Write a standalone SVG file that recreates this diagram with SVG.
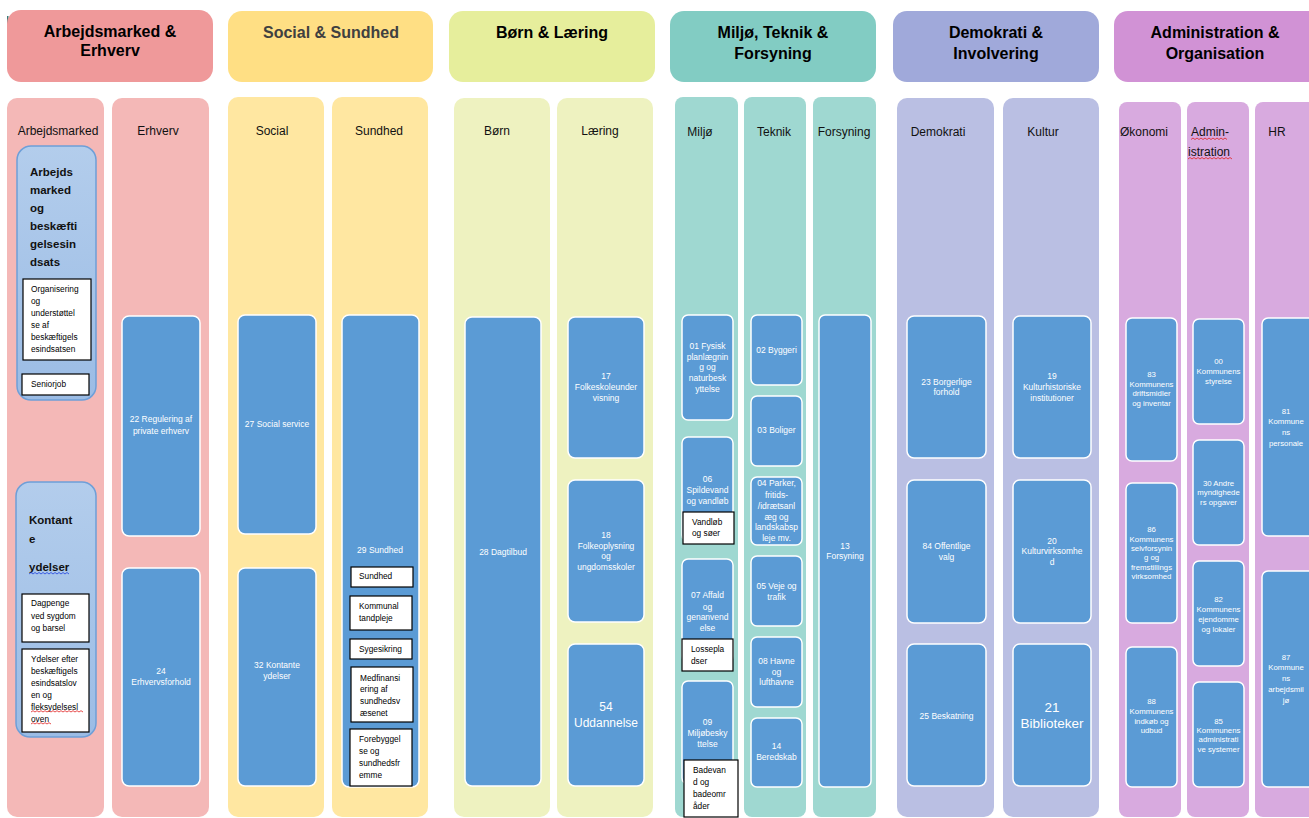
<svg xmlns="http://www.w3.org/2000/svg" width="1309" height="818" viewBox="0 0 1309 818">
<defs>
<linearGradient id="lb" x1="0" y1="0" x2="0" y2="1">
<stop offset="0" stop-color="#B3CDEC"/>
<stop offset="1" stop-color="#9BBCE5"/>
</linearGradient>
<style>
text{font-family:"Liberation Sans",Arial,sans-serif}
.h{font-size:16px;font-weight:bold;text-anchor:middle;fill:#000}
.cl{font-size:12px;fill:#111}
.clm{font-size:12px;fill:#111;text-anchor:middle}
.bx{fill:#5B9BD5;stroke:#fff;stroke-width:1.5}
.bt{font-size:8.5px;fill:#fff;text-anchor:middle}
.bs{font-size:7.8px;fill:#fff;text-anchor:middle}
.wb{fill:#fff;stroke:#000;stroke-width:1.2}
.wt{font-size:8.3px;fill:#000}
.lbx{fill:url(#lb);stroke:#6E9FD8;stroke-width:1.5}
.bold{font-size:11.5px;font-weight:bold;fill:#111}
.red{fill:none;stroke:#E02020;stroke-width:0.8}
.blu{fill:none;stroke:#2040E0;stroke-width:0.8}
</style>
</defs>
<rect width="1309" height="818" fill="#fff"/>
<rect x="7" y="16" width="1.5" height="13" fill="#3a7a78"/>

<g id="headers">
<g id="h-arbejdsmarked-erhverv"><rect x="7" y="10" width="206" height="72" rx="14" fill="#EF999A"/><text class="h" x="110" y="37">Arbejdsmarked &amp;</text><text class="h" x="110" y="56">Erhverv</text></g>
<g id="h-social-sundhed"><rect x="228" y="11" width="205" height="71" rx="14" fill="#FFDF84"/><text class="h" x="331" y="38" style="fill:#404040">Social &amp; Sundhed</text></g>
<g id="h-born-laering"><rect x="449" y="11" width="206" height="71" rx="14" fill="#E6EE9C"/><text class="h" x="552" y="38">Børn &amp; Læring</text></g>
<g id="h-miljo"><rect x="670" y="11" width="206" height="71" rx="14" fill="#82CCC3"/><text class="h" x="773" y="38">Miljø, Teknik &amp;</text><text class="h" x="773" y="59">Forsyning</text></g>
<g id="h-demokrati"><rect x="893" y="11" width="206" height="71" rx="14" fill="#A0A9DA"/><text class="h" x="996" y="38">Demokrati &amp;</text><text class="h" x="996" y="59">Involvering</text></g>
<g id="h-administration"><rect x="1114" y="11" width="210" height="71" rx="14" fill="#D192D5"/><text class="h" x="1215" y="38">Administration &amp;</text><text class="h" x="1215" y="59">Organisation</text></g>
</g>

<g id="columns">
<g id="c-arbejdsmarked"><rect x="7" y="98" width="97" height="719" rx="10" fill="#F4B8B7"/><text class="clm" x="58" y="135">Arbejdsmarked</text></g>
<g id="c-erhverv"><rect x="112" y="98" width="97" height="719" rx="10" fill="#F4B8B7"/><text class="clm" x="158" y="135">Erhverv</text></g>
<g id="c-social"><rect x="228" y="97" width="96" height="720" rx="10" fill="#FFE7A1"/><text class="clm" x="272" y="135">Social</text></g>
<g id="c-sundhed"><rect x="332" y="97" width="96" height="720" rx="10" fill="#FFE7A1"/><text class="clm" x="379" y="135">Sundhed</text></g>
<g id="c-born"><rect x="454" y="98" width="96" height="719" rx="10" fill="#EEF2C0"/><text class="clm" x="497" y="135">Børn</text></g>
<g id="c-laering"><rect x="557" y="98" width="96" height="719" rx="10" fill="#EEF2C0"/><text class="clm" x="600" y="135">Læring</text></g>
<g id="c-miljo"><rect x="675" y="97" width="63" height="720" rx="8" fill="#9FD8D1"/><text class="clm" x="700" y="136">Miljø</text></g>
<g id="c-teknik"><rect x="744" y="97" width="62" height="720" rx="8" fill="#9FD8D1"/><text class="clm" x="774" y="136">Teknik</text></g>
<g id="c-forsyning"><rect x="813" y="97" width="63" height="720" rx="8" fill="#9FD8D1"/><text class="clm" x="844" y="136">Forsyning</text></g>
<g id="c-demokrati"><rect x="897" y="98" width="97" height="719" rx="10" fill="#BABFE3"/><text class="clm" x="938" y="136">Demokrati</text></g>
<g id="c-kultur"><rect x="1003" y="98" width="96" height="719" rx="10" fill="#BABFE3"/><text class="clm" x="1043" y="136">Kultur</text></g>
<g id="c-okonomi"><rect x="1119" y="102" width="62" height="715" rx="8" fill="#D8AADF"/><text class="cl" x="1120" y="136">Økonomi</text></g>
<g id="c-admin"><rect x="1187" y="102" width="62" height="715" rx="8" fill="#D8AADF"/><text class="cl" x="1191" y="136">Admin-</text><text class="cl" x="1188" y="156">istration</text>
<path class="red" d="M1191 139.5 l2 -1.5 l2 1.5 l2 -1.5 l2 1.5 l2 -1.5 l2 1.5 l2 -1.5 l2 1.5 l2 -1.5 l2 1.5 l2 -1.5 l2 1.5 l2 -1.5 l2 1.5 l2 -1.5 l2 1.5 l2 -1.5 l2 1.5"/>
<path class="red" d="M1188 159 l2 -1.5 l2 1.5 l2 -1.5 l2 1.5 l2 -1.5 l2 1.5 l2 -1.5 l2 1.5 l2 -1.5 l2 1.5 l2 -1.5 l2 1.5 l2 -1.5 l2 1.5 l2 -1.5 l2 1.5 l2 -1.5 l2 1.5 l2 -1.5 l2 1.5 l2 -1.5 l2 1.5"/></g>
<g id="c-hr"><rect x="1255" y="102" width="70" height="715" rx="8" fill="#D8AADF"/><text class="clm" x="1277" y="136">HR</text></g>
</g>

<g id="n-arbejdsmarked-beskaeftigelse">
<rect class="lbx" x="17" y="146" width="79" height="254" rx="14"/>
<text class="bold" x="30" y="176">Arbejds</text><text class="bold" x="30" y="194">marked</text><text class="bold" x="30" y="212">og</text><text class="bold" x="30" y="230">beskæfti</text><text class="bold" x="30" y="248">gelsesin</text><text class="bold" x="30" y="266">dsats</text>
<g id="n-organisering"><rect class="wb" x="23" y="279" width="68" height="81"/>
<text class="wt" x="31" y="292">Organisering</text><text class="wt" x="31" y="304">og</text><text class="wt" x="31" y="316">understøttel</text><text class="wt" x="31" y="328">se af</text><text class="wt" x="31" y="340">beskæftigels</text><text class="wt" x="31" y="352">esindsatsen</text></g>
<g id="n-seniorjob"><rect class="wb" x="22" y="374" width="67" height="21"/><text class="wt" x="31" y="387">Seniorjob</text></g>
</g>

<g id="n-kontante-ydelser">
<rect class="lbx" x="16" y="482" width="80" height="255" rx="14"/>
<text class="bold" x="29" y="524">Kontant</text><text class="bold" x="29" y="543">e</text><text class="bold" x="29" y="571">ydelser</text>
<path class="blu" d="M29 574 l2 -1.5 l2 1.5 l2 -1.5 l2 1.5 l2 -1.5 l2 1.5 l2 -1.5 l2 1.5 l2 -1.5 l2 1.5 l2 -1.5 l2 1.5 l2 -1.5 l2 1.5 l2 -1.5 l2 1.5 l2 -1.5 l2 1.5 l2 -1.5 l2 1.5"/>
<g id="n-dagpenge"><rect class="wb" x="22" y="594" width="67" height="48"/>
<text class="wt" x="31" y="606">Dagpenge</text><text class="wt" x="31" y="619">ved sygdom</text><text class="wt" x="31" y="631">og barsel</text></g>
<g id="n-ydelser-efter"><rect class="wb" x="22" y="649" width="67" height="83"/>
<text class="wt" x="31" y="662">Ydelser efter</text><text class="wt" x="31" y="674">beskæftigels</text><text class="wt" x="31" y="686">esindsatslov</text><text class="wt" x="31" y="698">en og</text><text class="wt" x="31" y="710">fleksydelsesl</text><text class="wt" x="31" y="722">oven</text>
<path class="red" d="M31 712 l2 -1.3 l2 1.3 l2 -1.3 l2 1.3 l2 -1.3 l2 1.3 l2 -1.3 l2 1.3 l2 -1.3 l2 1.3 l2 -1.3 l2 1.3 l2 -1.3 l2 1.3 l2 -1.3 l2 1.3 l2 -1.3 l2 1.3 l2 -1.3 l2 1.3 l2 -1.3 l2 1.3 l2 -1.3 l2 1.3 l2 -1.3 l2 1.3"/>
<path class="red" d="M31 724 l2 -1.3 l2 1.3 l2 -1.3 l2 1.3 l2 -1.3 l2 1.3 l2 -1.3 l2 1.3 l2 -1.3 l2 1.3"/></g>
</g>

<g id="n-22"><rect class="bx" x="122" y="316" width="78" height="220" rx="7"/><text class="bt" x="161" y="422">22 Regulering af</text><text class="bt" x="161" y="434">private erhverv</text></g>
<g id="n-24"><rect class="bx" x="122" y="568" width="78" height="218" rx="7"/><text class="bt" x="161" y="674">24</text><text class="bt" x="161" y="685">Erhvervsforhold</text></g>

<g id="n-27"><rect class="bx" x="238" y="315" width="78" height="219" rx="7"/><text class="bt" x="277" y="427">27 Social service</text></g>
<g id="n-32"><rect class="bx" x="238" y="568" width="78" height="218" rx="7"/><text class="bt" x="277" y="668">32 Kontante</text><text class="bt" x="277" y="679">ydelser</text></g>

<g id="n-29"><rect class="bx" x="342" y="315" width="77" height="472" rx="7"/><text class="bt" x="380" y="553">29 Sundhed</text>
<g id="n-sundhed"><rect class="wb" x="351" y="567" width="62" height="20"/><text class="wt" x="359" y="579">Sundhed</text></g>
<g id="n-tandpleje"><rect class="wb" x="350" y="596" width="62" height="34"/><text class="wt" x="359" y="609">Kommunal</text><text class="wt" x="359" y="621">tandpleje</text></g>
<g id="n-sygesikring"><rect class="wb" x="350" y="639" width="62" height="20"/><text class="wt" x="359" y="652">Sygesikring</text></g>
<g id="n-medfinansiering"><rect class="wb" x="351" y="667" width="62" height="55"/><text class="wt" x="360" y="681">Medfinansi</text><text class="wt" x="360" y="692">ering af</text><text class="wt" x="360" y="704">sundhedsv</text><text class="wt" x="360" y="716">æsenet</text></g>
<g id="n-forebyggelse"><rect class="wb" x="350" y="729" width="62" height="57"/><text class="wt" x="359" y="742">Forebyggel</text><text class="wt" x="359" y="754">se og</text><text class="wt" x="359" y="766">sundhedsfr</text><text class="wt" x="359" y="778">emme</text></g>
</g>

<g id="n-28"><rect class="bx" x="465" y="317" width="76" height="469" rx="7"/><text class="bt" x="503" y="555">28 Dagtilbud</text></g>
<g id="n-17"><rect class="bx" x="568" y="317" width="76" height="141" rx="7"/><text class="bt" x="606" y="379">17</text><text class="bt" x="606" y="390">Folkeskoleunder</text><text class="bt" x="606" y="401">visning</text></g>
<g id="n-18"><rect class="bx" x="568" y="480" width="76" height="142" rx="7"/><text class="bt" x="606" y="538">18</text><text class="bt" x="606" y="549">Folkeoplysning</text><text class="bt" x="606" y="559">og</text><text class="bt" x="606" y="570">ungdomsskoler</text></g>
<g id="n-54"><rect class="bx" x="568" y="644" width="76" height="142" rx="7"/><text class="bt" x="606" y="711" style="font-size:12px">54</text><text class="bt" x="606" y="727" style="font-size:12px">Uddannelse</text></g>

<g id="n-01"><rect class="bx" x="682" y="315" width="51" height="105" rx="6"/><text class="bt" x="707.5" y="349">01 Fysisk</text><text class="bt" x="707.5" y="360">planlægnin</text><text class="bt" x="707.5" y="370">g og</text><text class="bt" x="707.5" y="381">naturbesk</text><text class="bt" x="707.5" y="392">yttelse</text></g>
<g id="n-06"><rect class="bx" x="682" y="437" width="51" height="104" rx="6"/><text class="bt" x="707.5" y="482">06</text><text class="bt" x="707.5" y="493">Spildevand</text><text class="bt" x="707.5" y="504">og vandløb</text>
<g id="n-vandlob"><rect class="wb" x="683" y="512" width="51" height="32"/><text class="wt" x="692" y="525">Vandløb</text><text class="wt" x="692" y="536">og søer</text></g></g>
<g id="n-07"><rect class="bx" x="682" y="559" width="51" height="103" rx="6"/><text class="bt" x="707.5" y="598">07 Affald</text><text class="bt" x="707.5" y="610">og</text><text class="bt" x="707.5" y="620">genanvend</text><text class="bt" x="707.5" y="631">else</text>
<g id="n-lossepladser"><rect class="wb" x="682" y="639" width="51" height="32"/><text class="wt" x="691" y="652">Lossepla</text><text class="wt" x="691" y="664">dser</text></g></g>
<g id="n-09"><rect class="bx" x="682" y="681" width="51" height="103" rx="6"/><text class="bt" x="707.5" y="725">09</text><text class="bt" x="707.5" y="736">Miljøbesky</text><text class="bt" x="707.5" y="747">ttelse</text>
<g id="n-badevand"><rect class="wb" x="684" y="760" width="54" height="57"/><text class="wt" x="693" y="773">Badevan</text><text class="wt" x="693" y="785">d og</text><text class="wt" x="693" y="797">badeomr</text><text class="wt" x="693" y="809">åder</text></g></g>

<g id="n-02"><rect class="bx" x="751" y="315" width="51" height="70" rx="6"/><text class="bt" x="776.5" y="353">02 Byggeri</text></g>
<g id="n-03"><rect class="bx" x="751" y="396" width="51" height="70" rx="6"/><text class="bt" x="776.5" y="433">03 Boliger</text></g>
<g id="n-04"><rect class="bx" x="751" y="477" width="51" height="68" rx="6"/><text class="bt" x="776.5" y="486">04 Parker,</text><text class="bt" x="776.5" y="498">fritids-</text><text class="bt" x="776.5" y="509">/idrætsanl</text><text class="bt" x="776.5" y="520">æg og</text><text class="bt" x="776.5" y="530">landskabsp</text><text class="bt" x="776.5" y="541">leje mv.</text></g>
<g id="n-05"><rect class="bx" x="751" y="556" width="51" height="70" rx="6"/><text class="bt" x="776.5" y="589">05 Veje og</text><text class="bt" x="776.5" y="600">trafik</text></g>
<g id="n-08"><rect class="bx" x="751" y="637" width="51" height="70" rx="6"/><text class="bt" x="776.5" y="664">08 Havne</text><text class="bt" x="776.5" y="675">og</text><text class="bt" x="776.5" y="685">lufthavne</text></g>
<g id="n-14"><rect class="bx" x="751" y="718" width="51" height="69" rx="6"/><text class="bt" x="776.5" y="749">14</text><text class="bt" x="776.5" y="760">Beredskab</text></g>

<g id="n-13"><rect class="bx" x="819" y="315" width="52" height="472" rx="6"/><text class="bt" x="845" y="549">13</text><text class="bt" x="845" y="559">Forsyning</text></g>

<g id="n-23"><rect class="bx" x="907" y="316" width="79" height="142" rx="7"/><text class="bt" x="946.5" y="385">23 Borgerlige</text><text class="bt" x="946.5" y="395">forhold</text></g>
<g id="n-84"><rect class="bx" x="907" y="480" width="79" height="143" rx="7"/><text class="bt" x="946.5" y="549">84 Offentlige</text><text class="bt" x="946.5" y="560">valg</text></g>
<g id="n-25"><rect class="bx" x="907" y="644" width="79" height="142" rx="7"/><text class="bt" x="946.5" y="719">25 Beskatning</text></g>

<g id="n-19"><rect class="bx" x="1013" y="316" width="78" height="142" rx="7"/><text class="bt" x="1052" y="379">19</text><text class="bt" x="1052" y="390">Kulturhistoriske</text><text class="bt" x="1052" y="401">institutioner</text></g>
<g id="n-20"><rect class="bx" x="1013" y="480" width="78" height="143" rx="7"/><text class="bt" x="1052" y="544">20</text><text class="bt" x="1052" y="554">Kulturvirksomhe</text><text class="bt" x="1052" y="565">d</text></g>
<g id="n-21"><rect class="bx" x="1013" y="644" width="78" height="142" rx="7"/><text class="bt" x="1052" y="712" style="font-size:13.5px">21</text><text class="bt" x="1052" y="728" style="font-size:13.5px">Biblioteker</text></g>

<g id="n-83"><rect class="bx" x="1126" y="318" width="51" height="143" rx="6"/><text class="bs" x="1151.5" y="377">83</text><text class="bs" x="1151.5" y="387">Kommunens</text><text class="bs" x="1151.5" y="396">driftsmidler</text><text class="bs" x="1151.5" y="406">og inventar</text></g>
<g id="n-86"><rect class="bx" x="1126" y="483" width="51" height="140" rx="6"/><text class="bs" x="1151.5" y="532">86</text><text class="bs" x="1151.5" y="542">Kommunens</text><text class="bs" x="1151.5" y="551">selvforsynin</text><text class="bs" x="1151.5" y="560">g og</text><text class="bs" x="1151.5" y="570">fremstillings</text><text class="bs" x="1151.5" y="579">virksomhed</text></g>
<g id="n-88"><rect class="bx" x="1126" y="647" width="51" height="140" rx="6"/><text class="bs" x="1151.5" y="704">88</text><text class="bs" x="1151.5" y="714">Kommunens</text><text class="bs" x="1151.5" y="724">indkøb og</text><text class="bs" x="1151.5" y="733">udbud</text></g>

<g id="n-00"><rect class="bx" x="1193" y="319" width="51" height="105" rx="6"/><text class="bs" x="1218.5" y="364">00</text><text class="bs" x="1218.5" y="374">Kommunens</text><text class="bs" x="1218.5" y="384">styrelse</text></g>
<g id="n-30"><rect class="bx" x="1193" y="440" width="51" height="105" rx="6"/><text class="bs" x="1218.5" y="486">30 Andre</text><text class="bs" x="1218.5" y="495">myndighede</text><text class="bs" x="1218.5" y="505">rs opgaver</text></g>
<g id="n-82"><rect class="bx" x="1193" y="561" width="51" height="105" rx="6"/><text class="bs" x="1218.5" y="602">82</text><text class="bs" x="1218.5" y="612">Kommunens</text><text class="bs" x="1218.5" y="622">ejendomme</text><text class="bs" x="1218.5" y="632">og lokaler</text></g>
<g id="n-85"><rect class="bx" x="1193" y="682" width="51" height="105" rx="6"/><text class="bs" x="1218.5" y="724">85</text><text class="bs" x="1218.5" y="733">Kommunens</text><text class="bs" x="1218.5" y="742">administrati</text><text class="bs" x="1218.5" y="752">ve systemer</text></g>

<g id="n-81"><rect class="bx" x="1262" y="318" width="52" height="218" rx="6"/><text class="bs" x="1286" y="414">81</text><text class="bs" x="1286" y="424">Kommune</text><text class="bs" x="1286" y="435">ns</text><text class="bs" x="1286" y="446">personale</text></g>
<g id="n-87"><rect class="bx" x="1262" y="571" width="52" height="216" rx="6"/><text class="bs" x="1286" y="660">87</text><text class="bs" x="1286" y="670">Kommune</text><text class="bs" x="1286" y="681">ns</text><text class="bs" x="1286" y="692">arbejdsmil</text><text class="bs" x="1286" y="703">jø</text></g>

<g id="connectors"/>
</svg>
